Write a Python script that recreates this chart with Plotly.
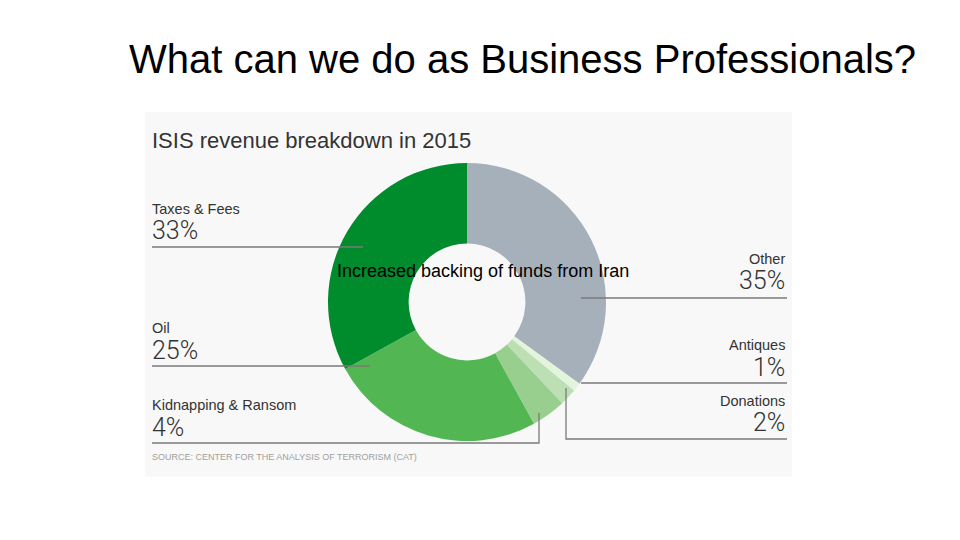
import plotly.graph_objects as go

# ---- data ----
categories = ["Other", "Antiques", "Donations", "Kidnapping & Ransom", "Oil", "Taxes & Fees"]
values = [35, 1, 2, 4, 25, 33]
colors = ["#a6b0ba", "#e2f5dc", "#bce0b4", "#98cf8f", "#52b752", "#008b2d"]

slide_title = "What can we do as Business Professionals?"
panel_title = "ISIS revenue breakdown in 2015"
center_note = "Increased backing of funds from Iran"
source_note = "SOURCE: CENTER FOR THE ANALYSIS OF TERRORISM (CAT)"

W, H = 960, 540

def px(x):
    return x / W

def py(y):
    return 1 - y / H

# donut geometry (pixels)
cx, cy, R = 467, 302, 139

fig = go.Figure()
fig.add_trace(go.Pie(
    labels=categories,
    values=values,
    marker=dict(colors=colors, line=dict(width=0)),
    hole=0.42,
    sort=False,
    direction="clockwise",
    rotation=0,
    textinfo="none",
    hoverinfo="label+percent",
    showlegend=False,
    domain=dict(x=[px(cx - R), px(cx + R)], y=[py(cy + R), py(cy - R)]),
))

shapes = []
# panel background
shapes.append(dict(type="rect", xref="paper", yref="paper", layer="below",
                   x0=px(145), x1=px(792), y0=py(477), y1=py(112),
                   fillcolor="#f8f8f8", line=dict(width=0)))

# label layout: (category index, side, name_y, pct_y, line path in px)
label_layout = [
    (5, "left", 209, 230, [(152, 247), (363, 247)]),
    (4, "left", 328, 350, [(152, 366), (370, 366)]),
    (3, "left", 405, 427, [(152, 443), (539, 443), (539, 413)]),
    (0, "right", 259, 280, [(581, 298), (787, 298)]),
    (1, "right", 345, 367, [(581, 383), (787, 383)]),
    (2, "right", 401, 422, [(566, 388), (566, 439), (787, 439)]),
]

annotations = []
for idx, side, ny, pyy, path in label_layout:
    if side == "left":
        xn, xp, anchor = px(150), px(150), "left"
    else:
        xn, xp, anchor = px(787), px(787), "right"
    annotations.append(dict(x=xn, y=py(ny), xref="paper", yref="paper", xanchor=anchor,
                            yanchor="middle", showarrow=False, text=categories[idx],
                            font=dict(family="Liberation Sans, Arial", size=14.5, color="#333333")))
    annotations.append(dict(x=xp, y=py(pyy), xref="paper", yref="paper",
                            xanchor=anchor, yanchor="middle", showarrow=False,
                            text=f"{values[idx]}%",
                            font=dict(family="Roboto, Liberation Sans", size=25, color="#333333", weight=300)))
    d = "M " + " L ".join(f"{px(x)},{py(y)}" for x, y in path)
    shapes.append(dict(type="path", xref="paper", yref="paper", path=d,
                       line=dict(color="#7a7a7a", width=1.3)))

annotations.append(dict(x=px(522), y=py(59), xref="paper", yref="paper", xanchor="center",
                        yanchor="middle", showarrow=False, text=slide_title,
                        font=dict(family="Liberation Sans, Arial", size=40, color="#000000")))
annotations.append(dict(x=px(150), y=py(141), xref="paper", yref="paper", xanchor="left",
                        yanchor="middle", showarrow=False, text=panel_title,
                        font=dict(family="Liberation Sans, Arial", size=22, color="#333333")))
annotations.append(dict(x=px(483), y=py(271), xref="paper", yref="paper", xanchor="center",
                        yanchor="middle", showarrow=False, text=center_note,
                        font=dict(family="Liberation Sans, Arial", size=18, color="#000000")))
annotations.append(dict(x=px(150), y=py(457), xref="paper", yref="paper", xanchor="left",
                        yanchor="middle", showarrow=False, text=source_note,
                        font=dict(family="Liberation Sans, Arial", size=9, color="#a0a0a0")))

fig.update_layout(
    width=W, height=H,
    margin=dict(l=0, r=0, t=0, b=0),
    paper_bgcolor="#ffffff",
    plot_bgcolor="#ffffff",
    shapes=shapes,
    annotations=annotations,
)

fig.write_html("out.html",
               config={"displayModeBar": False},
               post_script="document.body.style.margin='0';document.body.style.padding='0';")
